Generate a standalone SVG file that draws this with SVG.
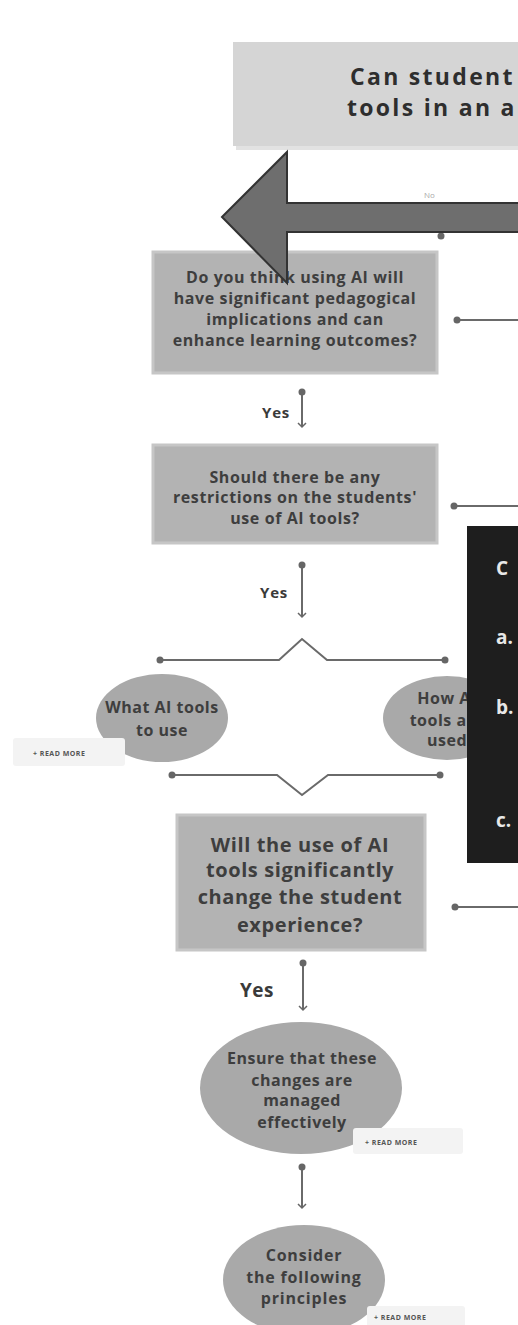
<svg xmlns="http://www.w3.org/2000/svg" width="518" height="1325" viewBox="0 0 518 1325">
  <defs>
    <style>
      .box { fill: #b3b3b3; stroke: #c6c6c6; stroke-width: 3; }
      .ell { fill: #a9a9a9; }
      .t { font-family: "Open Sans", "Liberation Sans", sans-serif; font-weight: bold; fill: #3e3e3e; text-anchor: middle; }
      .s16 { font-size: 16px; letter-spacing: 0.6px; }
      .yes { font-family: "Open Sans", "Liberation Sans", sans-serif; font-weight: bold; fill: #3a3a3a; font-size: 15px; letter-spacing: 0.8px; }
      .conn { stroke: #6a6a6a; stroke-width: 2; fill: none; }
      .tag { fill: #f3f3f3; }
      .tagt { font-family: "Open Sans", "Liberation Sans", sans-serif; font-weight: bold; fill: #555; font-size: 7px; letter-spacing: 0.5px; }
      .wt { font-family: "Open Sans", "Liberation Sans", sans-serif; font-weight: bold; fill: #e8e8e8; font-size: 19px; }
      .head { font-family: "Open Sans", "Liberation Sans", sans-serif; font-weight: bold; fill: #2e2e2e; font-size: 23px; letter-spacing: 2.3px; }
    </style>
    <marker id="dot" markerWidth="8" markerHeight="8" refX="4" refY="4" markerUnits="userSpaceOnUse">
      <circle cx="4" cy="4" r="3.5" fill="#666"/>
    </marker>
    <marker id="arr" markerWidth="10" markerHeight="10" refX="6" refY="5" markerUnits="userSpaceOnUse" orient="auto">
      <path d="M2 1 L6 5 L2 9" fill="none" stroke="#666" stroke-width="1.5"/>
    </marker>
  </defs>
  <rect width="518" height="1325" fill="#ffffff"/>

  <g id="top">
    <rect x="236" y="46" width="290" height="104" fill="#e2e2e2"/>
    <rect x="233" y="42" width="290" height="104" fill="#d5d5d5"/>
    <text class="head" x="350" y="85">Can student</text>
    <text class="head" x="347" y="116">tools in an a</text>
  </g>

  <g id="connectors">
    <text x="424" y="198" font-family="Open Sans, Liberation Sans, sans-serif" font-size="8" fill="#aaa">No</text>
    <line class="conn" x1="441" y1="210" x2="441" y2="236" marker-end="url(#dot)"/>
    <line class="conn" x1="457" y1="320" x2="518" y2="320" marker-start="url(#dot)"/>
    <line class="conn" x1="454" y1="506" x2="518" y2="506" marker-start="url(#dot)"/>
    <line class="conn" x1="455" y1="907" x2="518" y2="907" marker-start="url(#dot)"/>
    <line class="conn" x1="302" y1="392" x2="302" y2="427" marker-start="url(#dot)" marker-end="url(#arr)"/>
    <line class="conn" x1="302" y1="565" x2="302" y2="617" marker-start="url(#dot)" marker-end="url(#arr)"/>
    <path class="conn" d="M160 660 L279 660 L302 639 L327 660 L445 660" marker-start="url(#dot)" marker-end="url(#dot)"/>
    <path class="conn" d="M172 775 L277 775 L302 795 L328 775 L440 775" marker-start="url(#dot)" marker-end="url(#dot)"/>
    <line class="conn" x1="303" y1="963" x2="303" y2="1010" marker-start="url(#dot)" marker-end="url(#arr)"/>
    <line class="conn" x1="302" y1="1167" x2="302" y2="1208" marker-start="url(#dot)" marker-end="url(#arr)"/>
    <text class="yes" x="262" y="418">Yes</text>
    <text class="yes" x="260" y="598">Yes</text>
    <text class="yes" x="240" y="997" style="font-size:19px;letter-spacing:0.5px">Yes</text>
  </g>

  <g id="q1">
    <rect class="box" x="153" y="252" width="284" height="121"/>
    <text class="t s16" x="295" y="283">Do you think using AI will</text>
    <text class="t s16" x="295" y="304">have significant pedagogical</text>
    <text class="t s16" x="295" y="325">implications and can</text>
    <text class="t s16" x="295" y="346">enhance learning outcomes?</text>
  </g>

  <g id="q2">
    <rect class="box" x="153" y="445" width="284" height="98"/>
    <text class="t s16" x="295" y="483">Should there be any</text>
    <text class="t s16" x="295" y="503">restrictions on the students'</text>
    <text class="t s16" x="295" y="524">use of AI tools?</text>
  </g>

  <g id="what">
    <ellipse class="ell" cx="162" cy="718" rx="66" ry="44"/>
    <text class="t" style="font-size:16px;letter-spacing:0.5px" x="162" y="713">What AI tools</text>
    <text class="t" style="font-size:16px;letter-spacing:0.5px" x="162" y="736">to use</text>
    <rect class="tag" x="13" y="738" width="112" height="28" rx="3"/>
    <text class="tagt" x="33" y="756">+ READ MORE</text>
  </g>

  <g id="how">
    <ellipse class="ell" cx="447" cy="718" rx="64" ry="42"/>
    <text class="t" style="font-size:16px;letter-spacing:0.5px" x="447" y="704">How AI</text>
    <text class="t" style="font-size:16px;letter-spacing:0.5px" x="447" y="726">tools are</text>
    <text class="t" style="font-size:16px;letter-spacing:0.5px" x="447" y="746">used</text>
  </g>

  <g id="q3">
    <rect class="box" x="177" y="815" width="248" height="135"/>
    <text class="t" style="font-size:20px;letter-spacing:0.6px" x="300" y="852">Will the use of AI</text>
    <text class="t" style="font-size:20px;letter-spacing:0.6px" x="300" y="877">tools significantly</text>
    <text class="t" style="font-size:20px;letter-spacing:0.6px" x="300" y="904">change the student</text>
    <text class="t" style="font-size:20px;letter-spacing:0.6px" x="300" y="932">experience?</text>
  </g>

  <g id="ensure">
    <ellipse class="ell" cx="301" cy="1088" rx="101" ry="66"/>
    <text class="t" style="font-size:16px;letter-spacing:0.5px" x="302" y="1064">Ensure that these</text>
    <text class="t" style="font-size:16px;letter-spacing:0.5px" x="302" y="1086">changes are</text>
    <text class="t" style="font-size:16px;letter-spacing:0.5px" x="302" y="1106">managed</text>
    <text class="t" style="font-size:16px;letter-spacing:0.5px" x="302" y="1128">effectively</text>
    <rect class="tag" x="353" y="1128" width="110" height="26" rx="3"/>
    <text class="tagt" x="365" y="1145">+ READ MORE</text>
  </g>

  <g id="consider">
    <ellipse class="ell" cx="304" cy="1280" rx="81" ry="55"/>
    <text class="t" style="font-size:16px;letter-spacing:0.8px" x="304" y="1261">Consider</text>
    <text class="t" style="font-size:16px;letter-spacing:0.8px" x="304" y="1283">the following</text>
    <text class="t" style="font-size:16px;letter-spacing:0.8px" x="304" y="1304">principles</text>
    <rect class="tag" x="367" y="1306" width="98" height="22" rx="3"/>
    <text class="tagt" x="374" y="1320">+ READ MORE</text>
  </g>

  <g id="panel">
    <rect x="467" y="526" width="60" height="337" fill="#1e1e1e"/>
    <text class="wt" x="496" y="575">C</text>
    <text class="wt" x="496" y="644">a.</text>
    <text class="wt" x="496" y="714">b.</text>
    <text class="wt" x="496" y="827">c.</text>
  </g>

  <g id="bigarrow">
    <polygon points="222,217 287,152 287,203 520,203 520,232 287,232 287,283" fill="#6e6e6e" stroke="#333" stroke-width="2"/>
  </g>
</svg>
